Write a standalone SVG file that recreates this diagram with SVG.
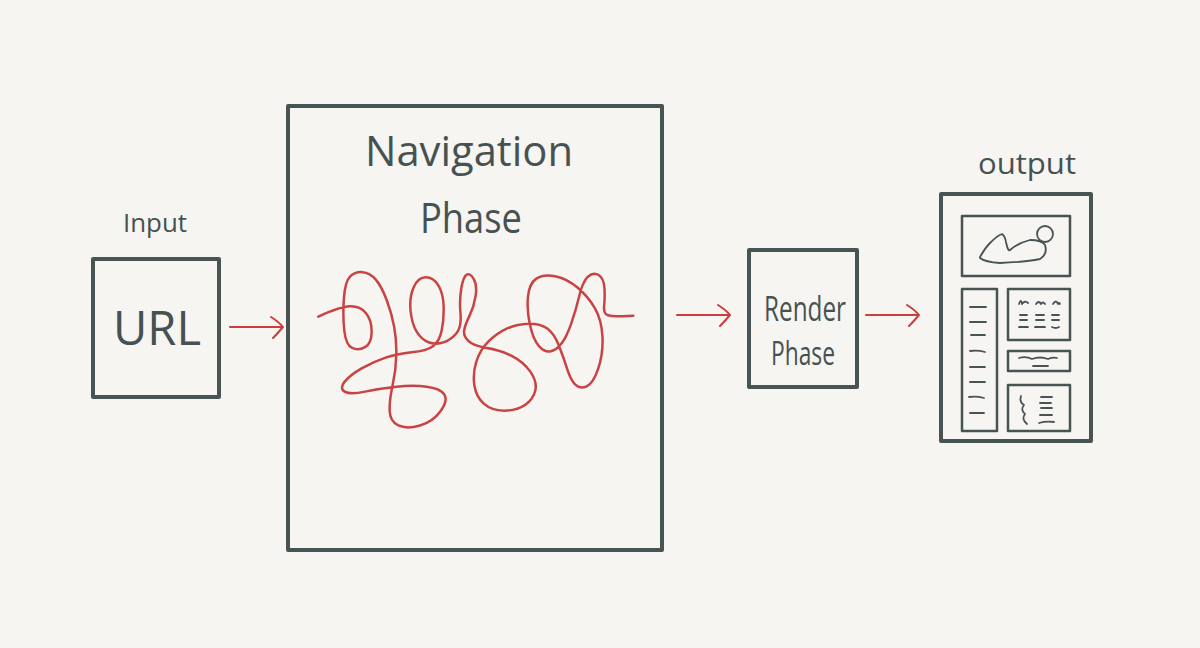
<svg xmlns="http://www.w3.org/2000/svg" width="1200" height="648" viewBox="0 0 1200 648">
<defs>
<style>
.box{fill:none;stroke:#485454;stroke-width:4;stroke-linejoin:round}
.thin{fill:none;stroke:#485454;stroke-width:2.5;stroke-linejoin:round;stroke-linecap:round}
.mark{fill:none;stroke:#485454;stroke-width:1.8;stroke-linecap:round;stroke-linejoin:round}
.lbl{font-family:"Open Sans","Liberation Sans",sans-serif;fill:#465252;text-anchor:middle}
.arrow{fill:none;stroke:#cc3d3d;stroke-width:2;stroke-linecap:round;stroke-linejoin:round}
.scribble{fill:none;stroke:#c94343;stroke-width:7.5;stroke-linecap:round;stroke-linejoin:round}
</style>
</defs>
<rect width="1200" height="648" fill="#f6f5f1"/>

<g id="input">
<text class="lbl" x="155" y="232" font-size="26" textLength="64" lengthAdjust="spacingAndGlyphs">Input</text>
<rect class="box" x="93" y="259" width="126" height="138"/>
<text class="lbl" x="157" y="345" font-size="48" textLength="88" lengthAdjust="spacingAndGlyphs">URL</text>
</g>

<g id="navigation">
<rect class="box" x="288" y="106" width="374" height="444"/>
<text class="lbl" x="469" y="166" font-size="42" textLength="208" lengthAdjust="spacingAndGlyphs">Navigation</text>
<text class="lbl" x="471" y="233" font-size="42" textLength="102" lengthAdjust="spacingAndGlyphs">Phase</text>
<g transform="translate(300,250) scale(0.3333)">
<path class="scribble" d="M55,200 Q120,170 150,169 Q180,168 197.5,189 Q215,210 215,245 Q215,280 195,291.5 Q175,303 156.5,294 Q138,285 133,242.5 Q128,200 131.5,147.5 Q135,95 150,80 Q165,65 187.5,66.5 Q210,68 227.5,89 Q245,110 260,150 Q275,190 282.5,230 Q290,270 289,315 Q288,360 278,405 Q268,450 269,482.5 Q270,515 295,526.5 Q320,538 360,526.5 Q400,515 422.5,482.5 Q445,450 432.5,432.5 Q420,415 380,410 Q340,405 290,410 Q240,415 195,425 Q150,435 134,425 Q118,415 134,395 Q150,375 185,355 Q220,335 255,323.5 Q290,312 335,307 Q380,302 399,288.5 Q418,275 425,242.5 Q432,210 431,170 Q430,130 415,106 Q400,82 377.5,82 Q355,82 341.5,111 Q328,140 331.5,180 Q335,220 350,245 Q365,270 387.5,277.5 Q410,285 432.5,276.5 Q455,268 470,249 Q485,230 481.5,190 Q478,150 484,115 Q490,80 500,74 Q510,68 521,86.5 Q532,105 527,137.5 Q522,170 508.5,197.5 Q495,225 492.5,241.5 Q490,258 505,273 Q520,288 560,294 Q600,300 635,317.5 Q670,335 691,365 Q712,395 706,421.5 Q700,448 675,465 Q650,482 612.5,482 Q575,482 551.5,461 Q528,440 523,405 Q518,370 529,335 Q540,300 565,275 Q590,250 620,236 Q650,222 685,221 Q720,220 741,235 Q762,250 776,285 Q790,320 801,355 Q812,390 826,404 Q840,418 860,409 Q880,400 895,355 Q910,310 907.5,260 Q905,210 885,175 Q865,140 832.5,112.5 Q800,85 765,78.5 Q730,72 709,86 Q688,100 684,140 Q680,180 690,225 Q700,270 717.5,289 Q735,308 752.5,304 Q770,300 785,280 Q800,260 814,220 Q828,180 838,137.5 Q848,95 864,80 Q880,65 896,75 Q912,85 913.5,115 Q915,145 912.5,167.5 Q910,190 922.5,195 Q935,200 967.5,198.5 L1000,197"/>
</g>
</g>

<g id="render">
<rect class="box" x="749" y="250" width="108" height="137"/>
<text class="lbl" x="805" y="321" font-size="34" textLength="82" lengthAdjust="spacingAndGlyphs">Render</text>
<text class="lbl" x="803" y="365" font-size="32" textLength="64" lengthAdjust="spacingAndGlyphs">Phase</text>
</g>

<g id="output">
<text class="lbl" x="1027" y="174" font-size="30" textLength="98" lengthAdjust="spacingAndGlyphs">output</text>
<rect class="box" x="941" y="194" width="150" height="247"/>
<rect class="thin" x="962" y="216" width="108" height="60"/>
<path class="mark" d="M980,257 Q985,248 990,243 Q998,235 1002,234 Q1005,236 1006,242 Q1008,252 1010,250 Q1018,243 1030,240 Q1042,240 1045,245 Q1048,254 1040,259 Q1025,262 1000,263 Q985,262 980,258 Z"/>
<circle class="mark" cx="1045" cy="234" r="8"/>
<rect class="thin" x="962" y="289" width="35" height="142"/>
<path class="mark" d="M970,307 H986 M970,322 H986 M971,335 H985 M970,351 Q978,350 985,352 M970,367 H985 M970,382 H985 M969,397 Q977,396 984,398 M970,413 H984"/>
<rect class="thin" x="1008" y="289" width="62" height="51"/>
<path class="mark" d="M1019,304 Q1021,298 1022,304 Q1025,300 1028,303 M1036,304 Q1039,300 1041,304 Q1043,301 1045,304 M1053,304 Q1056,299 1058,304 Q1059,302 1060,304"/>
<path class="mark" d="M1020,315 H1027 M1020,320 H1027 M1019,327 H1028 M1036,315 H1044 M1036,320 H1044 M1035,327 H1045 M1052,315 H1059 M1052,320 H1059 M1052,327 Q1056,329 1059,327"/>
<rect class="thin" x="1008" y="351" width="62" height="20"/>
<path class="mark" d="M1019,358 Q1026,356 1032,359 Q1040,356 1048,359 Q1053,357 1057,358 M1033,366 H1048"/>
<rect class="thin" x="1008" y="385" width="62" height="46"/>
<path class="mark" d="M1021,396 Q1019,402 1024,405 Q1020,410 1025,414 Q1021,419 1027,424 M1041,397 H1052 M1040,403 H1051 M1041,408 H1052 M1040,415 H1052 M1039,423 Q1046,421 1054,422"/>
</g>

<g id="connectors">
<path class="arrow" d="M230,327 H283 M271,317 Q279,322 283,327 Q278,333 273,338"/>
<path class="arrow" d="M677,315 H730 M718,305 Q726,310 730,315 Q725,321 720,326"/>
<path class="arrow" d="M866,315 H919 M907,305 Q915,310 919,315 Q914,321 909,326"/>
</g>
</svg>
